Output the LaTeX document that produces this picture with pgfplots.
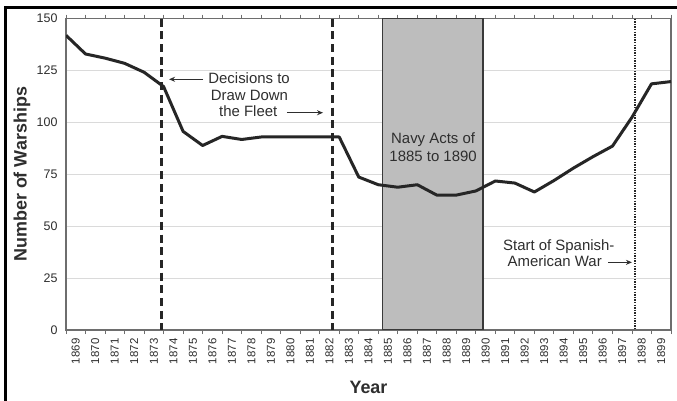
\documentclass[border=0pt]{standalone}
\usepackage{pgfplots}
\pgfplotsset{compat=1.18}
\usepackage{fontspec}
\setmainfont{Liberation Sans}
\usetikzlibrary{arrows.meta}
\definecolor{txt}{HTML}{2E2E2E}
\definecolor{gridc}{HTML}{DADADA}
\definecolor{axc}{HTML}{6E6E6E}
\definecolor{linec}{HTML}{262626}
\definecolor{boxc}{HTML}{BDBDBD}
\definecolor{boxe}{HTML}{3A3A3A}
\begin{document}
\begin{tikzpicture}
\useasboundingbox (0,0) rectangle (677bp,401bp);
\fill[white] (0,0) rectangle (677bp,401bp);
\draw[black, line width=3bp] (5bp,0) -- (5bp,393bp) -- (677bp,393bp);
\begin{axis}[
  at={(66bp,71bp)}, anchor=south west,
  scale only axis, width=605bp, height=311.3bp,
  xmin=1868.5, xmax=1899.5, ymin=0, ymax=150,
  ytick={0,25,...,150},
  xtick={1869,1870,...,1899},
  minor xtick={1868.5,1869.5,...,1899.5},
  tick align=outside,
  major tick length=0pt,
  minor tick length=4bp,
  xtick style={draw=none},
  ytick style={draw=none},
  minor x tick style={draw=axc, line width=0.8bp},
  ymajorgrids, grid style={draw=gridc, line width=0.9bp},
  axis line style={draw=axc, line width=1.2bp},
  xticklabel={\pgfmathprintnumber[fixed,precision=0,1000 sep={},assume math mode=true]{\tick}},
  yticklabel={\pgfmathprintnumber[fixed,precision=0,1000 sep={},assume math mode=true]{\tick}},
  xticklabel shift=5bp,
  yticklabel shift=5bp,
  xticklabel style={rotate=90, anchor=east, font=\fontsize{11.5}{11.5}\selectfont, text=txt},
  yticklabel style={font=\fontsize{12.5}{12.5}\selectfont, text=txt},
  xlabel={Year}, ylabel={Number of Warships},
  xlabel style={at={(axis description cs:0.5,-0.186)}, anchor=center, font=\bfseries\fontsize{18}{18}\selectfont, text=txt},
  ylabel style={at={(axis description cs:-0.0727,0.5)}, anchor=center, font=\bfseries\fontsize{18}{18}\selectfont, text=txt},
  clip=true,
]
% shaded period
\addplot[fill=boxc, draw=boxe, line width=1.6bp] coordinates {(1884.71,0) (1884.71,150) (1889.88,150) (1889.88,0)} -- cycle;
% decision lines
\addplot[draw=linec, line width=2.6bp, dash pattern=on 8bp off 4.7bp] coordinates {(1873.38,150) (1873.38,0)};
\addplot[draw=linec, line width=2.6bp, dash pattern=on 8bp off 4.7bp] coordinates {(1882.15,150) (1882.15,0)};
% Spanish-American war
\addplot[draw=linec, line width=2.2bp, dash pattern=on 1.3bp off 1.3bp] coordinates {(1897.66,150) (1897.66,0)};
% warships
\addplot[draw=linec, line width=3bp, line join=round] coordinates {
(1868.5,142.0) (1869.5,133.0) (1870.5,131.0) (1871.5,128.5) (1872.5,124.2)
(1873.5,117.3) (1874.5,95.7) (1875.5,88.9) (1876.5,93.3) (1877.5,91.8)
(1878.5,93.0) (1879.5,93.0) (1880.5,93.0) (1881.5,93.0) (1882.5,93.0)
(1883.5,73.7) (1884.5,70.0) (1885.5,68.8) (1886.5,70.0) (1887.5,65.0)
(1888.5,65.0) (1889.5,67.0) (1890.5,71.8) (1891.5,70.8) (1892.5,66.5)
(1893.5,72.0) (1894.5,78.0) (1895.5,83.5) (1896.5,88.6) (1897.5,102.5)
(1898.5,118.6) (1899.5,119.7)};
% annotations
\begin{scope}[every node/.style={text=txt, font=\fontsize{15}{17}\selectfont, inner sep=0pt, anchor=base}]
\node at (axis cs:1877.88,118.6) {Decisions to};
\node at (axis cs:1877.90,110.6) {Draw Down};
\node at (axis cs:1877.84,103.0) {the Fleet};
\node at (axis cs:1887.31,89.8) {Navy Acts of};
\node at (axis cs:1887.31,81.4) {1885 to 1890};
\node at (axis cs:1893.75,38.1) {Start of Spanish-};
\node at (axis cs:1893.54,30.5) {American War};
\end{scope}
\draw[txt, line width=1.4bp, -{Stealth[length=6bp,width=5bp]}] (axis cs:1875.52,120.8) -- (axis cs:1873.78,120.8);
\draw[txt, line width=1.4bp, -{Stealth[length=6bp,width=5bp]}] (axis cs:1879.82,104.7) -- (axis cs:1881.67,104.7);
\draw[txt, line width=1.4bp, -{Stealth[length=6bp,width=5bp]}] (axis cs:1896.29,32.6) -- (axis cs:1897.50,32.6);
\end{axis}
\end{tikzpicture}
\end{document}
